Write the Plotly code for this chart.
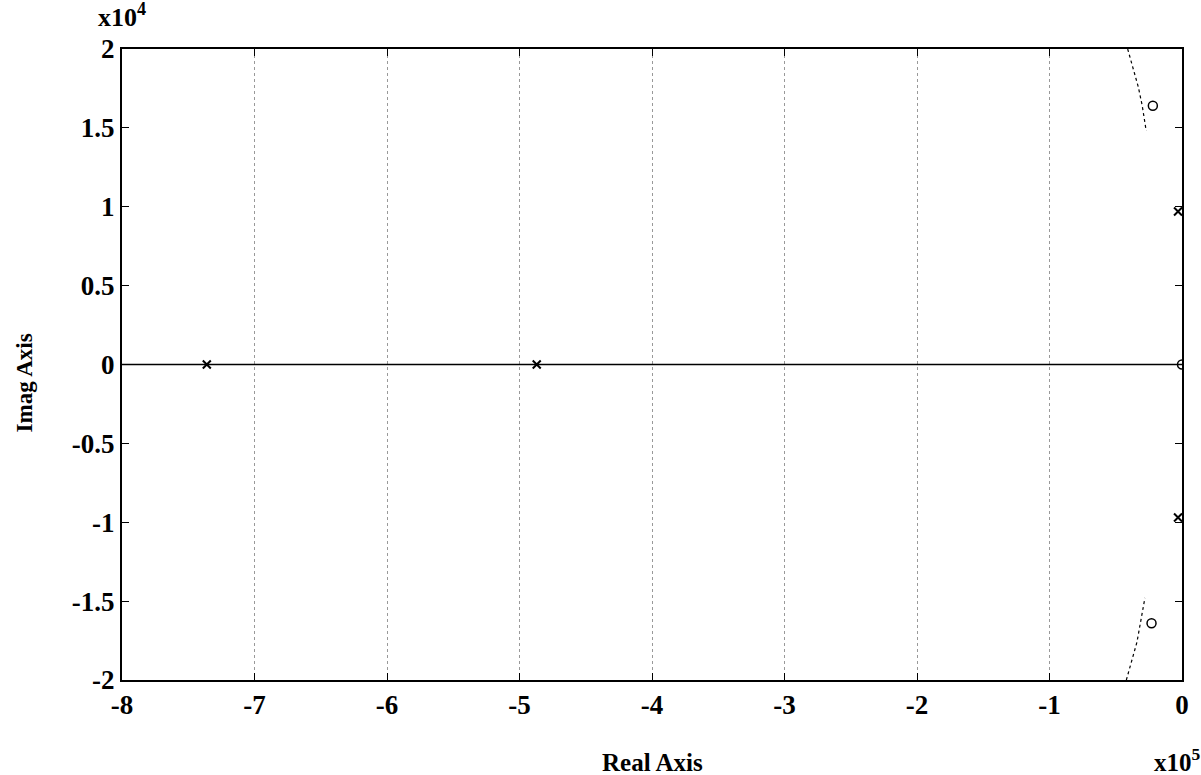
import plotly.graph_objects as go

# Values in display units: real part x1e5, imaginary part x1e4
pole_re = [-7.36, -4.87, -0.03, -0.03]
pole_im = [0.0, 0.0, 0.97, -0.97]
zero_re = [-0.22, -0.23, 0.0]
zero_im = [1.64, -1.64, 0.0]

real_axis_re = [-8.0, 0.0]
real_axis_im = [0.0, 0.0]

branch_up_re = [-0.41, -0.37, -0.33, -0.30, -0.27]
branch_up_im = [2.0, 1.88, 1.76, 1.64, 1.48]
branch_dn_re = [-0.42, -0.38, -0.34, -0.31, -0.28]
branch_dn_im = [-2.0, -1.88, -1.76, -1.62, -1.48]

x_ticks = [-8, -7, -6, -5, -4, -3, -2, -1, 0]
x_labels = ["-8", "-7", "-6", "-5", "-4", "-3", "-2", "-1", "0"]
y_ticks = [-2, -1.5, -1, -0.5, 0, 0.5, 1, 1.5, 2]
y_labels = ["-2", "-1.5", "-1", "-0.5", "0", "0.5", "1", "1.5", "2"]

FONT = "Liberation Serif"

fig = go.Figure()
fig.add_trace(go.Scatter(x=real_axis_re, y=real_axis_im, mode="lines",
                         line=dict(color="black", width=1.5), showlegend=False))
fig.add_trace(go.Scatter(x=branch_up_re, y=branch_up_im, mode="lines",
                         line=dict(color="black", width=1.2, dash="dot"), showlegend=False))
fig.add_trace(go.Scatter(x=branch_dn_re, y=branch_dn_im, mode="lines",
                         line=dict(color="black", width=1.2, dash="dot"), showlegend=False))
fig.add_trace(go.Scatter(x=pole_re, y=pole_im, mode="markers",
                         marker=dict(symbol="x-thin", size=8, line=dict(color="black", width=2)),
                         showlegend=False))
fig.add_trace(go.Scatter(x=zero_re, y=zero_im, mode="markers",
                         marker=dict(symbol="circle-open", size=9, color="black",
                                     line=dict(color="black", width=1.5)),
                         showlegend=False))

tick_font = dict(size=27, family=FONT, weight="bold", color="black")

fig.update_layout(
    width=1201, height=775,
    margin=dict(l=122, r=19, t=49, b=95),
    paper_bgcolor="white", plot_bgcolor="white",
    font=dict(family=FONT, color="black", size=22),
    xaxis=dict(range=[-8, 0], tickvals=x_ticks, ticktext=x_labels,
               showgrid=True, gridcolor="#999", griddash="dot", gridwidth=1,
               zeroline=False, showline=True, linecolor="black", linewidth=2,
               mirror="ticks", ticks="inside", ticklen=7, tickcolor="black",
               tickfont=tick_font),
    yaxis=dict(range=[-2, 2], tickvals=y_ticks, ticktext=y_labels,
               showgrid=False, zeroline=False, showline=True, linecolor="black",
               linewidth=2, mirror="ticks", ticks="inside", ticklen=7, tickcolor="black",
               tickfont=tick_font),
    annotations=[
        dict(text="<b>x10</b><sup><b>4</b></sup>", x=-8, y=2, xref="x", yref="y",
             xshift=0, yshift=34, showarrow=False,
             font=dict(size=26, family=FONT, color="black")),
        dict(text="<b>Real Axis</b>", x=-4.0, y=-2, xref="x", yref="y", yshift=-82,
             showarrow=False, font=dict(size=25, family=FONT, color="black")),
        dict(text="<b>x10</b><sup><b>5</b></sup>", x=0, y=-2, xref="x", yref="y",
             xshift=-5, yshift=-80, showarrow=False,
             font=dict(size=25, family=FONT, color="black")),
        dict(text="<b>Imag Axis</b>", x=-8, y=-0.12, xref="x", yref="y", xshift=-98,
             textangle=-90, showarrow=False,
             font=dict(size=23, family=FONT, color="black")),
    ],
)

fig.write_html("out.html")
